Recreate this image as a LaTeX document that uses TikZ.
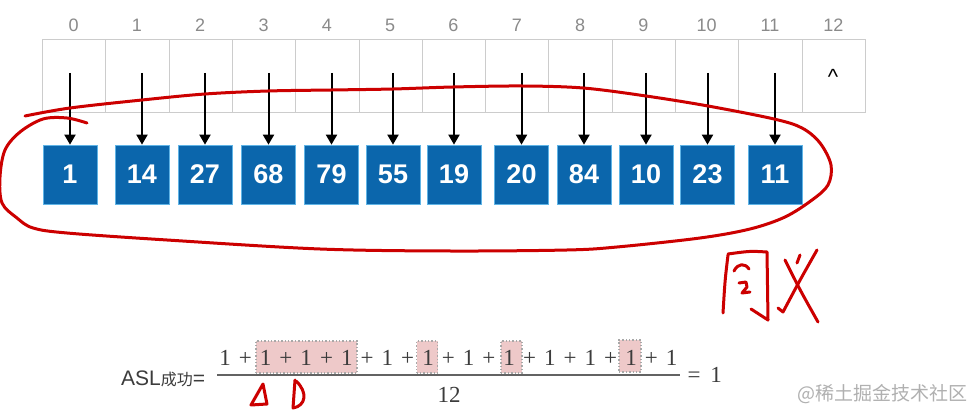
\documentclass[tikz,border=0pt]{standalone}
\usepackage{fontspec}
\setmainfont{Liberation Serif}
\setsansfont{Liberation Sans}
\newfontfamily\cjk{Noto Sans CJK SC}
\usetikzlibrary{arrows.meta}
\definecolor{cellline}{HTML}{CCCCCC}
\definecolor{idxgray}{HTML}{8A8A8A}
\definecolor{boxblue}{HTML}{0B66AC}
\definecolor{boxedge}{HTML}{5FB4E6}
\definecolor{inkred}{HTML}{CC0000}
\definecolor{hlpink}{HTML}{EEC9C9}
\definecolor{hledge}{HTML}{A8A8A8}
\definecolor{mathgray}{HTML}{3C3C3C}
\definecolor{wmgray}{HTML}{B0B0B0}
\begin{document}
\begin{tikzpicture}[x=1pt,y=-1pt,
 cell/.style={draw=cellline, line width=1pt, minimum width=63.3pt, minimum height=73pt, inner sep=0pt, anchor=north west},
 idx/.style={font=\sffamily\fontsize{18}{18}\selectfont, text=idxgray, anchor=base, inner sep=0pt},
 keybox/.style={fill=boxblue, draw=boxedge, line width=0.7pt, minimum width=54pt, minimum height=59pt, inner sep=0pt, text=white, font=\sffamily\bfseries\fontsize{27}{27}\selectfont},
 ptr/.style={line width=2pt, -{Triangle[length=10pt,width=11pt]}},
 ink/.style={draw=inkred, line width=3pt, line cap=round, line join=round},
 hl/.style={fill=hlpink, draw=hledge, dotted, line width=1.4pt, minimum height=32pt, inner sep=0pt},
 term/.style={font=\fontsize{23}{23}\selectfont, text=mathgray, anchor=base, inner sep=0pt},
]
\useasboundingbox[fill=white] (0,0) rectangle (971,419);

% hash table cells
\foreach \i in {0,...,12} {
  \node[cell] (c\i) at ({42+63.3*\i},39) {};
  \node[idx] (n\i) at ({42+63.3*(\i+0.5)},32) {\i};
}
\node[anchor=base, inner sep=0pt, font=\sffamily\fontsize{22}{22}\selectfont] (caret) at (833,85) {\textasciicircum};

% key boxes and pointers
\foreach \x/\v [count=\k from 0] in {70/1,142/14,205/27,268.5/68,331.5/79,393/55,454/19,521.5/20,584/84,646/10,707.5/23,775/11} {
  \node[keybox] (b\k) at (\x,174.5) {\v};
  \coordinate (s\k) at (\x,73);
  \draw[ptr] (s\k) -- (b\k.north);
}

% red freehand loop
\draw[ink] plot[smooth, tension=0.55] coordinates {(87,123) (67,118) (43,119) (20,132) (5,150) (0,177) (2,203) (17,218) (33,228) (67,233) (167,240) (320,249) (450,251) (567,250) (617,247) (700,238) (750,229) (785,217) (812,200) (828,185) (831,165) (820,143) (802,128) (774,119) (708,106) (646,96) (583,88) (522,86) (453,87) (393,89) (331,90) (268,91) (205,94) (142,100) (70,108) (25,116)};

% handwriting
\draw[ink] (728,255) .. controls (725,280) .. (723,313);
\draw[ink] (728,254) .. controls (750,251) .. (767,252) -- (768,320) -- (751,309);
\draw[ink] (734,271) .. controls (738,263) and (745,263) .. (749,269);
\draw[ink] (739,283) -- (746,282) -- (747,287) -- (742,293) -- (750,292);
\draw[ink] (800,255) -- (797,263);
\draw[ink] (817,250) .. controls (800,280) .. (783,312) -- (778,308);
\draw[ink] (785,260) .. controls (800,290) .. (818,322);

% small marks under the formula
\draw[ink] (263,384) -- (251,405) -- (267,404) -- cycle;
\draw[ink] (295,380) -- (293,408) .. controls (306,406) and (308,392) .. (296,381);

% formula
\node[hl, minimum width=101pt] (h1) at (306.5,357) {};
\node[hl, minimum width=21pt] (h2) at (427,357) {};
\node[hl, minimum width=21pt] (h3) at (511.5,357) {};
\node[hl, minimum width=22pt] (h4) at (630,356) {};
\foreach \i in {0,...,11} \node[term] (t\i) at ({225+40.6*\i},365) {1};
\foreach \i in {0,...,10} \node[term] (p\i) at ({245.3+40.6*\i},365) {+};
\coordinate (fl) at (217,375);
\coordinate (fr) at (680,375);
\draw[line width=1.5pt, draw=mathgray!80] (fl) -- (fr);
\node[term] (den) at (449,402) {12};
\node[term] (eq) at (694,382) {=};
\node[term] (one) at (716,382) {1};
\node[anchor=base west, inner sep=0pt, text=mathgray] (asl) at (121,385) {\sffamily\fontsize{21}{21}\selectfont ASL{\cjk\fontsize{16}{16}\selectfont 成功}=};

% watermark
\node[anchor=base west, text=wmgray, inner sep=0pt] (wm) at (797,400) {\cjk\fontsize{19}{19}\selectfont @稀土掘金技术社区};
\end{tikzpicture}
\end{document}
